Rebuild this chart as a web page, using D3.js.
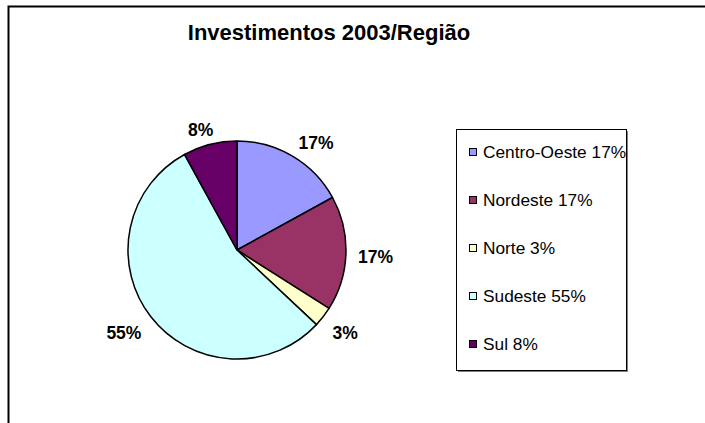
<!DOCTYPE html>
<html>
<head>
<meta charset="utf-8">
<script src="https://cdn.jsdelivr.net/npm/d3@7"></script>
<style>
  body { margin: 0; background: #fff; }
  text { font-family: "Liberation Sans", Arial, sans-serif; }
</style>
</head>
<body>
<script>
var width = 705,
    height = 423;

// dados
var regioes = ["Centro-Oeste", "Nordeste", "Norte", "Sudeste", "Sul"];
var valores = [17, 17, 3, 55, 8];
var cores = ["#9999FF", "#993366", "#FFFFCC", "#CCFFFF", "#660066"];
var titulo = "Investimentos 2003/Região";

var cx = 237, cy = 250, radius = 109;

var svg = d3.select("body").append("svg")
    .attr("width", width)
    .attr("height", height);

// moldura da area do grafico (corta na direita e embaixo)
svg.append("rect")
    .attr("x", 8.5)
    .attr("y", 6.5)
    .attr("width", width + 20)
    .attr("height", height + 20)
    .attr("fill", "none")
    .attr("stroke", "#000")
    .attr("stroke-width", 2);

svg.append("text")
    .attr("x", 329)
    .attr("y", 40)
    .attr("text-anchor", "middle")
    .style("font-size", "22px")
    .style("font-weight", "bold")
    .text(titulo);

var total = d3.sum(valores);
var data = regioes.map(function (d, i) {
    return {regiao: d, valor: valores[i], cor: cores[i]};
});

var pie = d3.pie()
    .sort(null)
    .value(function (d) { return d.valor; });

var arc = d3.arc()
    .innerRadius(0)
    .outerRadius(radius);

var g = svg.append("g")
    .attr("transform", "translate(" + cx + "," + cy + ")");

var arcs = pie(data);

g.selectAll("path")
    .data(arcs)
    .enter().append("path")
    .attr("d", arc)
    .attr("fill", function (d) { return d.data.cor; })
    .attr("stroke", "#000")
    .attr("stroke-width", 1.5)
    .attr("stroke-linejoin", "round");

var fmt = function (v) { return Math.round(v / total * 100) + "%"; };

// rotulos fora da pizza, como no Excel
var labels = g.selectAll(".lbl")
    .data(arcs)
    .enter().append("text")
    .attr("class", "lbl")
    .attr("text-anchor", "middle")
    .style("font-size", "17.5px")
    .style("font-weight", "bold")
    .text(function (d) { return fmt(d.data.valor); });

var clamp = function (v) { return Math.max(-1, Math.min(1, v)); };

labels.each(function (d) {
    var t = d3.select(this),
        w = this.getComputedTextLength(),
        a = (d.startAngle + d.endAngle) / 2,
        s = Math.sin(a), c = Math.cos(a),
        r = radius + 12,
        x = r * s + (w / 2) * clamp(2 * s),
        y = -r * c + 6 * clamp(-2 * c) + 3;
    t.attr("x", x)
     .attr("y", y + 6);
});

// legenda
var lx = 456, ly = 129, lw = 170, lh = 241;

svg.append("rect")
    .attr("x", lx + 2)
    .attr("y", ly + 2)
    .attr("width", lw)
    .attr("height", lh)
    .attr("fill", "#808080");

svg.append("rect")
    .attr("x", lx + 0.5)
    .attr("y", ly + 0.5)
    .attr("width", lw)
    .attr("height", lh)
    .attr("fill", "#fff")
    .attr("stroke", "#000")
    .attr("stroke-width", 1);

var legY = d3.scalePoint()
    .domain(regioes)
    .range([158, 350]);

var item = svg.selectAll(".leg")
    .data(data)
    .enter().append("g")
    .attr("class", "leg")
    .attr("transform", function (d) { return "translate(469," + legY(d.regiao) + ")"; });

item.append("rect")
    .attr("x", 0.5)
    .attr("y", -9.5)
    .attr("width", 7)
    .attr("height", 7)
    .attr("fill", function (d) { return d.cor; })
    .attr("stroke", "#000")
    .attr("stroke-width", 1);

item.append("text")
    .attr("x", 14)
    .attr("y", 0)
    .style("font-size", "17.3px")
    .text(function (d) { return d.regiao + " " + fmt(d.valor); });
</script>
</body>
</html>
